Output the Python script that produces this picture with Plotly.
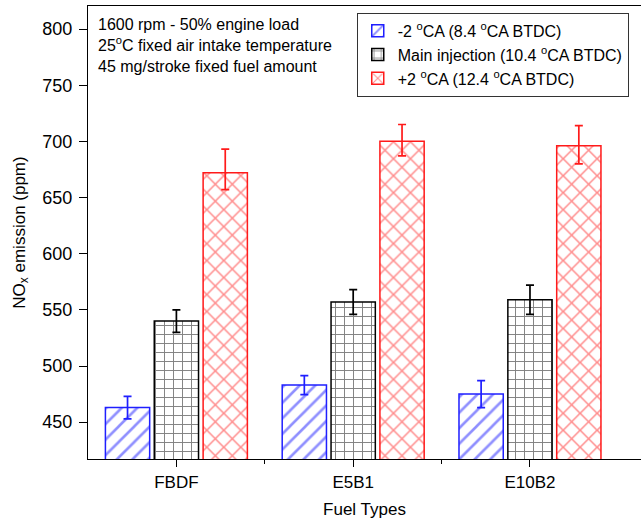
import plotly.graph_objects as go

categories = ["FBDF", "E5B1", "E10B2"]
series_names = [
    "-2 <sup>o</sup>CA (8.4 <sup>o</sup>CA BTDC)",
    "Main injection (10.4 <sup>o</sup>CA BTDC)",
    "+2 <sup>o</sup>CA (12.4 <sup>o</sup>CA BTDC)",
]
minus2_vals = [463, 483, 475]
minus2_err = [10, 8.5, 12]
main_vals = [540, 557, 559]
main_err = [10, 11, 13]
plus2_vals = [672, 700, 696]
plus2_err_plus = [21, 15, 18]
plus2_err_minus = [15, 13, 16]

y_ticks = [450, 500, 550, 600, 650, 700, 750, 800]

FONT = "Arial, Liberation Sans, sans-serif"

fig = go.Figure()

def add_bar(name, vals, eplus, eminus, color, shape, psize, sol):
    fig.add_trace(go.Bar(
        x=categories, y=vals, name=name,
        marker=dict(color="white", line=dict(color=color, width=1.5),
                    pattern=dict(shape=shape, fgcolor=color, bgcolor="white",
                                 size=psize, solidity=sol)),
        error_y=dict(type="data", array=eplus, arrayminus=eminus,
                     color=color, thickness=1.7, width=4, visible=True),
    ))

add_bar(series_names[0], minus2_vals, minus2_err, minus2_err, "#1f1fff", "/", 11, 0.24)
add_bar(series_names[1], main_vals, main_err, main_err, "black", "+", 9, 0.2)
add_bar(series_names[2], plus2_vals, plus2_err_plus, plus2_err_minus, "#ff1a1a", "x", 12, 0.24)

fig.add_annotation(
    xref="paper", yref="paper", x=0.014, y=0.983, xanchor="left", yanchor="top",
    align="left", showarrow=False,
    text="1600 rpm - 50% engine load<br>25<sup>o</sup>C fixed air intake temperature<br>45 mg/stroke fixed fuel amount",
    font=dict(family=FONT, size=16, color="black"),
)

fig.update_layout(
    width=641, height=524,
    margin=dict(l=88, r=0, t=6, b=65),
    paper_bgcolor="white", plot_bgcolor="white",
    barmode="group", bargap=0.171, bargroupgap=0.094,
    font=dict(family=FONT, size=17, color="black"),
    showlegend=True,
    legend=dict(x=0.486, y=0.985, xanchor="left", yanchor="top",
                bgcolor="white", bordercolor="#333333", borderwidth=1,
                font=dict(family=FONT, size=16, color="black"),
                tracegroupgap=0, itemwidth=30),
    xaxis=dict(
        range=[-0.5, 2.628], showline=True, linecolor="black", linewidth=1.3,
        mirror=True, ticks="outside", ticklen=7, tickwidth=1.3, tickcolor="black",
        showgrid=False, zeroline=False,
        title=dict(text="Fuel Types", font=dict(family=FONT, size=17), standoff=12),
        tickfont=dict(family=FONT, size=17),
    ),
    yaxis=dict(
        range=[417.2, 820.5], showline=True, linecolor="black", linewidth=1.3,
        ticks="outside", ticklen=8, tickwidth=1.3, tickcolor="black",
        tickvals=y_ticks, showgrid=False, zeroline=False, ticklabelstandoff=3,
        title=dict(text="NO<sub>x</sub> emission (ppm)", font=dict(family=FONT, size=17), standoff=12),
        tickfont=dict(family=FONT, size=18),
    ),
)

fig.update_xaxes(minor=dict(ticks="outside", ticklen=4, tickwidth=1.3, tickcolor="black",
                            tickmode="array", tickvals=[0.5, 1.5]))

fig.write_html("out.html", config={"displayModeBar": False},
               post_script="document.body.style.margin='0';")
